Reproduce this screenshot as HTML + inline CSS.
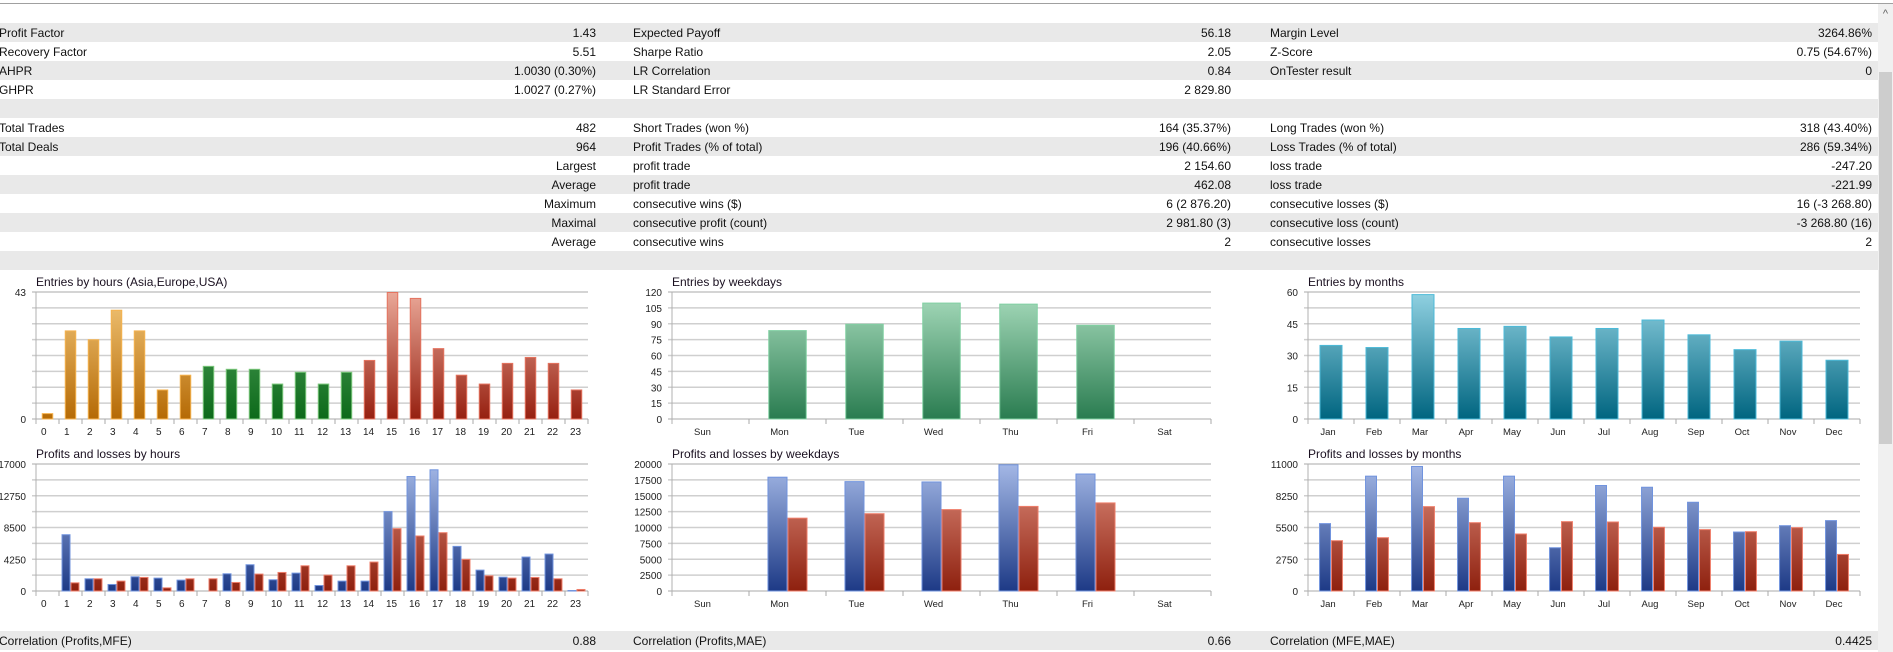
<!DOCTYPE html>
<html><head><meta charset="utf-8">
<style>
html,body{margin:0;padding:0;background:#fff;width:1893px;height:652px;overflow:hidden;}
svg{display:block;font-family:"Liberation Sans",Arial,sans-serif;}
</style></head>
<body>
<svg id="root" width="1893" height="652" viewBox="0 0 1893 652" xmlns="http://www.w3.org/2000/svg">
<defs>
 <linearGradient id="gOr" gradientUnits="userSpaceOnUse" x1="0" y1="292" x2="0" y2="419"><stop offset="0" stop-color="#f3c77a"/><stop offset="1" stop-color="#b56a05"/></linearGradient>
 <linearGradient id="gGr" gradientUnits="userSpaceOnUse" x1="0" y1="292" x2="0" y2="419"><stop offset="0" stop-color="#5aa866"/><stop offset="1" stop-color="#0d6a1a"/></linearGradient>
 <linearGradient id="gRd" gradientUnits="userSpaceOnUse" x1="0" y1="292" x2="0" y2="419"><stop offset="0" stop-color="#eaa898"/><stop offset="1" stop-color="#962010"/></linearGradient>
 <linearGradient id="gWk" gradientUnits="userSpaceOnUse" x1="0" y1="292" x2="0" y2="419"><stop offset="0" stop-color="#a8dcbd"/><stop offset="1" stop-color="#2a7c50"/></linearGradient>
 <linearGradient id="gMo" gradientUnits="userSpaceOnUse" x1="0" y1="292" x2="0" y2="419"><stop offset="0" stop-color="#92d2e2"/><stop offset="1" stop-color="#006580"/></linearGradient>
 <linearGradient id="gBl" gradientUnits="userSpaceOnUse" x1="0" y1="464" x2="0" y2="591"><stop offset="0" stop-color="#a4b8e6"/><stop offset="1" stop-color="#1d3a86"/></linearGradient>
 <linearGradient id="gLs" gradientUnits="userSpaceOnUse" x1="0" y1="464" x2="0" y2="591"><stop offset="0" stop-color="#e09080"/><stop offset="1" stop-color="#8e200e"/></linearGradient>
</defs>
<line x1="0" y1="3.5" x2="1893" y2="3.5" stroke="#a0a0a0" stroke-width="1"/>
<g id="table"></g>
<g id="charts"></g>
<rect x="1878" y="4" width="15" height="648" fill="#f0f0f0"/>
<rect x="1879" y="72" width="13" height="372" fill="#cdcdcd"/>
<text x="1885.5" y="17" font-size="11" text-anchor="middle" fill="#606060">^</text>
</svg>
<script>
// ---- table data ----
const tableRows = [
 ["Profit Factor","1.43","Expected Payoff","56.18","Margin Level","3264.86%"],
 ["Recovery Factor","5.51","Sharpe Ratio","2.05","Z-Score","0.75 (54.67%)"],
 ["AHPR","1.0030 (0.30%)","LR Correlation","0.84","OnTester result","0"],
 ["GHPR","1.0027 (0.27%)","LR Standard Error","2 829.80","",""],
 ["","","","","",""],
 ["Total Trades","482","Short Trades (won %)","164 (35.37%)","Long Trades (won %)","318 (43.40%)"],
 ["Total Deals","964","Profit Trades (% of total)","196 (40.66%)","Loss Trades (% of total)","286 (59.34%)"],
 ["","Largest","profit trade","2 154.60","loss trade","-247.20"],
 ["","Average","profit trade","462.08","loss trade","-221.99"],
 ["","Maximum","consecutive wins ($)","6 (2 876.20)","consecutive losses ($)","16 (-3 268.80)"],
 ["","Maximal","consecutive profit (count)","2 981.80 (3)","consecutive loss (count)","-3 268.80 (16)"],
 ["","Average","consecutive wins","2","consecutive losses","2"],
 ["","","","","",""]
];
const corrRow = ["Correlation (Profits,MFE)","0.88","Correlation (Profits,MAE)","0.66","Correlation (MFE,MAE)","0.4425"];

// ---- chart data ----
const hourCats = ["0","1","2","3","4","5","6","7","8","9","10","11","12","13","14","15","16","17","18","19","20","21","22","23"];
const hourEntries = [2,30,27,37,30,10,15,18,17,17,12,16,12,16,20,43,41,24,15,12,19,21,19,10];
const hourProfits = [0,7600,1700,940,1970,1790,1520,0,2370,3580,1570,2460,800,1390,1390,10690,15390,16290,6040,2860,1920,4610,5010,130];
const hourLosses = [0,1160,1700,1390,1880,490,1700,1700,1210,2330,2550,3440,2190,3440,3940,8410,7430,7870,4300,2100,1790,1880,1700,270];
const dayCats = ["Sun","Mon","Tue","Wed","Thu","Fri","Sat"];
const dayEntries = [0,84,90,110,109,89,0];
const dayProfits = [0,18000,17300,17250,19950,18500,0];
const dayLosses = [0,11550,12250,12900,13400,13950,0];
const monCats = ["Jan","Feb","Mar","Apr","May","Jun","Jul","Aug","Sep","Oct","Nov","Dec"];
const monEntries = [35,34,59,43,44,39,43,47,40,33,37,28];
const monProfits = [5880,9990,10830,8080,9990,3790,9180,9030,7730,5150,5700,6140];
const monLosses = [4400,4660,7350,5960,4980,6050,6020,5560,5360,5180,5530,3210];
const yTicks1 = ["43",null,null,null,null,null,null,null,"0"];
const yTicks2 = ["120","105","90","75","60","45","30","15","0"];
const yTicks3 = ["60",null,"45",null,"30",null,"15",null,"0"];
const yTicks4 = ["17000",null,"12750",null,"8500",null,"4250",null,"0"];
const yTicks5 = ["20000","17500","15000","12500","10000","7500","5000","2500","0"];
const yTicks6 = ["11000",null,"8250",null,"5500",null,"2750",null,"0"];

const NS="http://www.w3.org/2000/svg";
function mk(parent,tag,attrs,txt){const e=document.createElementNS(NS,tag);for(const k in attrs)e.setAttribute(k,attrs[k]);if(txt!==undefined)e.textContent=txt;parent.appendChild(e);return e;}

// table
const tg=document.getElementById('table');
function drawRow(row,top,i){
  if(i%2===0){const r=mk(tg,'rect',{x:0,y:top,width:1878,height:19,fill:'#e9e9e9'});
    
    }
  const cols=[[-1,'start'],[596,'end'],[633,'start'],[1231,'end'],[1270,'start'],[1872,'end']];
  row.forEach((t,c)=>{ if(!t) return;
    const e=mk(tg,'text',{x:cols[c][0],y:top+14,'font-size':12,'text-anchor':cols[c][1],fill:'#111'},t);
    
    
  });
}
tableRows.forEach((row,i)=>drawRow(row,23+19*i,i));
drawRow(corrRow,631,0);

// charts
const cg=document.getElementById('charts');
function chart(o){
  const g=mk(cg,'g',{});
  
  
  const t=mk(g,'text',{x:o.L,y:o.T-6,'font-size':12,fill:'#1a1020'},o.title);
  
  
  const H=o.B-o.T, n=o.cats.length, slot=(o.R-o.L)/n;
  const yv=v=>o.B-v/o.max*H;
  for(let i=0;i<=8;i++){
    const y=o.T+H*i/8;
    const ln=mk(g,'line',{x1:o.L-4,y1:y,x2:o.R,y2:y,stroke:i===0||i===8?'#a8a8a8':'#cfcfcf','stroke-width':i===0||i===8?1:1.6});
    
    
    if(o.yt[i]!==null){
      const lb=mk(g,'text',{x:o.L-10,y:y+4,'font-size':10,'text-anchor':'end',fill:'#222'},o.yt[i]);
      
      
    }
  }
  mk(g,'line',{x1:o.L,y1:o.T,x2:o.L,y2:o.B+5,stroke:'#b0b0b0','stroke-width':1});
  o.cats.forEach((c,i)=>{
    const x0=o.L+slot*i;
    const tk=mk(g,'line',{x1:x0+slot,y1:o.B,x2:x0+slot,y2:o.B+5,stroke:'#a8a8a8','stroke-width':1});
    
    
    const lx=o.labelMode==='left'?x0+5:x0+slot/2+o.labOff;
    const lb=mk(g,'text',{x:lx,y:o.B+16,'font-size':o.labelMode==='left'?10:9.5,'text-anchor':o.labelMode==='left'?'start':'middle',fill:'#222'},c);
    
    
  });
  o.series.forEach((s,si)=>{
    s.vals.forEach((v,i)=>{
      if(!v) return;
      const x0=o.L+slot*i;
      let bx,bw;
      if(o.series.length===1){bw=slot*0.5;bx=x0+slot*0.25;}
      else{bw=slot*o.pairW;bx=x0+slot/2+(si===0?-bw:0);}
      const y=yv(v);
      const fill=s.fillFn?s.fillFn(i):s.fill, st=s.strokeFn?s.strokeFn(i):s.stroke;
      const r=mk(g,'rect',{x:bx+0.5,y:y+0.5,width:bw-1,height:Math.max(o.B-y-0.5,0.5),fill:fill,stroke:st,'stroke-width':1});
      
      
    });
  });
}
const hourFill=i=>i<7?'url(#gOr)':(i<14?'url(#gGr)':'url(#gRd)');
const hourStroke=i=>i<7?'#f5b24e':(i<14?'#7cc87c':'#e5735f');
chart({name:'entries-by-hours-chart',title:'Entries by hours (Asia,Europe,USA)',L:36,R:588,T:292,B:419,max:43,yt:yTicks1,cats:hourCats,labelMode:'left',
  series:[{name:'hour-entries',vals:hourEntries,fillFn:hourFill,strokeFn:hourStroke}]});
chart({name:'entries-by-weekdays-chart',title:'Entries by weekdays',L:672,R:1211,T:292,B:419,max:120,yt:yTicks2,cats:dayCats,labOff:-8,
  series:[{name:'weekday-entries',vals:dayEntries,fill:'url(#gWk)',stroke:'#80d0a2'}]});
chart({name:'entries-by-months-chart',title:'Entries by months',L:1308,R:1860,T:292,B:419,max:60,yt:yTicks3,cats:monCats,labOff:-3,
  series:[{name:'month-entries',vals:monEntries,fill:'url(#gMo)',stroke:'#4cbad8'}]});
chart({name:'profits-losses-by-hours-chart',title:'Profits and losses by hours',L:36,R:588,T:464,B:591,max:17000,yt:yTicks4,cats:hourCats,labelMode:'left',pairW:0.39,
  series:[{name:'hour-profit',vals:hourProfits,fill:'url(#gBl)',stroke:'#7093de'},{name:'hour-loss',vals:hourLosses,fill:'url(#gLs)',stroke:'#ef7e6a'}]});
chart({name:'profits-losses-by-weekdays-chart',title:'Profits and losses by weekdays',L:672,R:1211,T:464,B:591,max:20000,yt:yTicks5,cats:dayCats,labOff:-8,pairW:0.26,
  series:[{name:'weekday-profit',vals:dayProfits,fill:'url(#gBl)',stroke:'#7093de'},{name:'weekday-loss',vals:dayLosses,fill:'url(#gLs)',stroke:'#ef7e6a'}]});
chart({name:'profits-losses-by-months-chart',title:'Profits and losses by months',L:1308,R:1860,T:464,B:591,max:11000,yt:yTicks6,cats:monCats,labOff:-3,pairW:0.26,
  series:[{name:'month-profit',vals:monProfits,fill:'url(#gBl)',stroke:'#7093de'},{name:'month-loss',vals:monLosses,fill:'url(#gLs)',stroke:'#ef7e6a'}]});
</script>
</body></html>
